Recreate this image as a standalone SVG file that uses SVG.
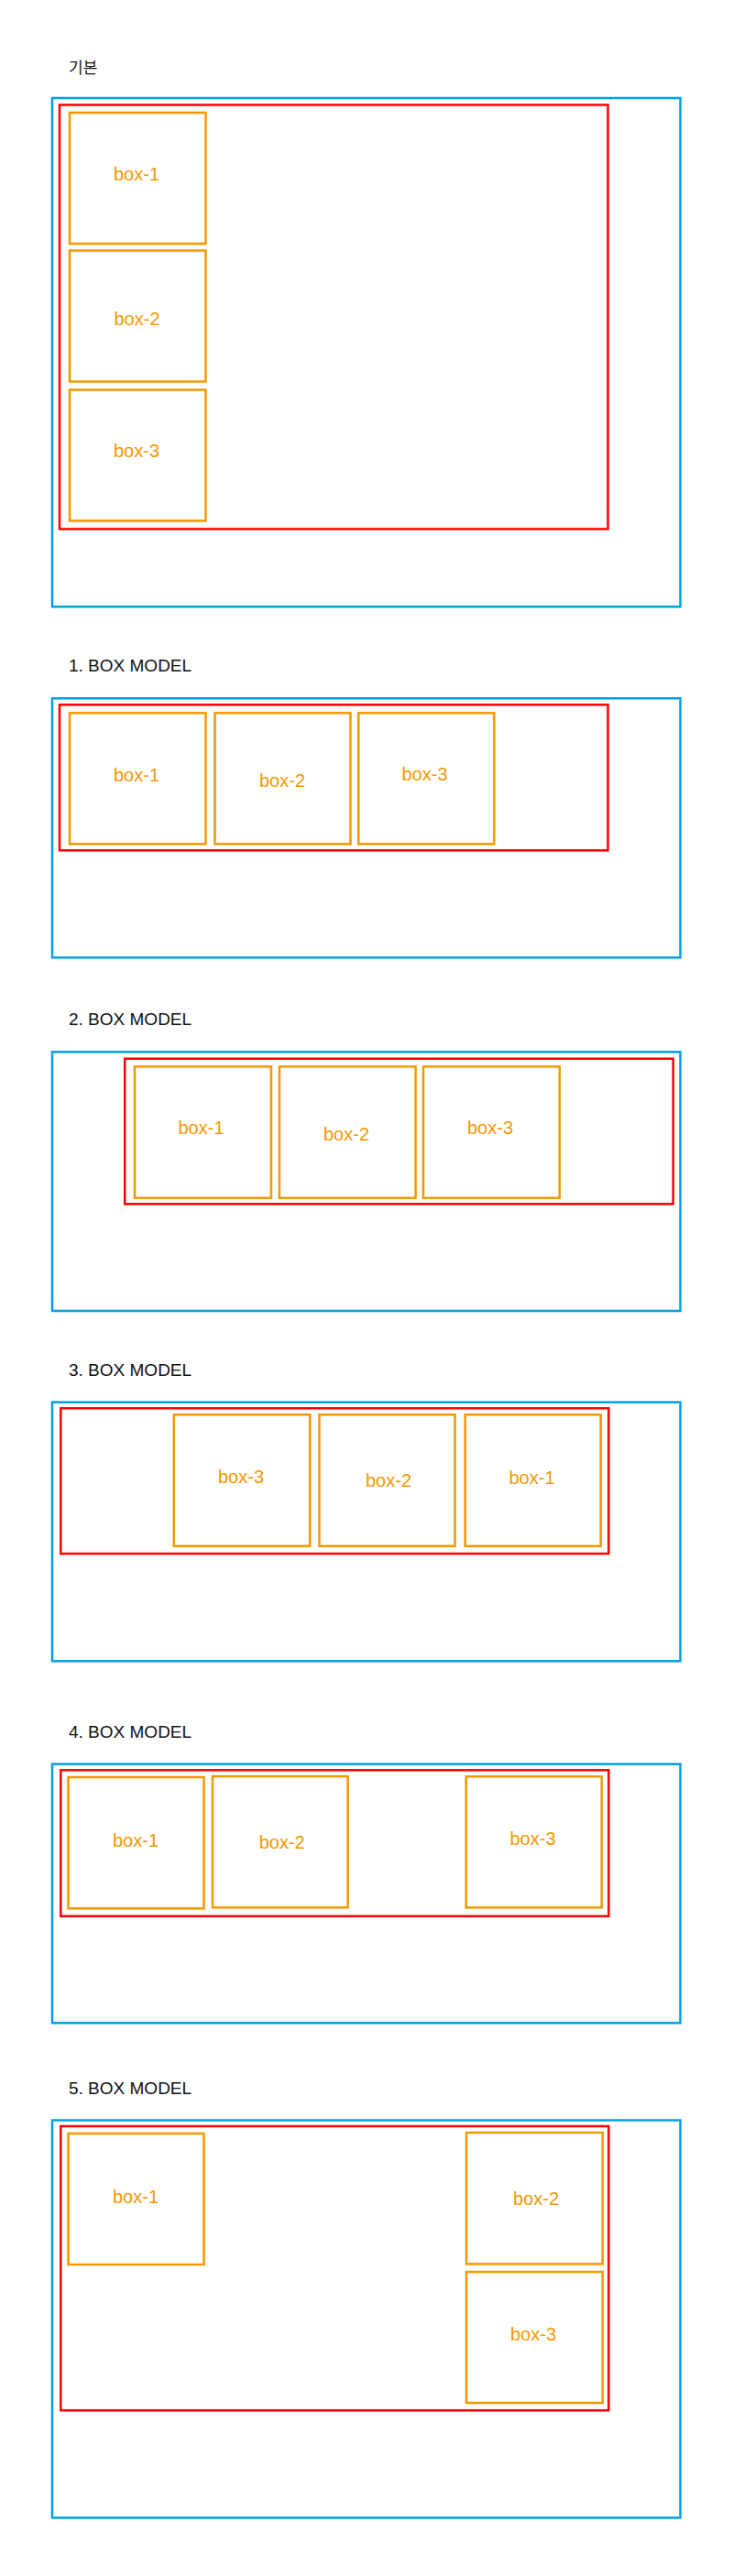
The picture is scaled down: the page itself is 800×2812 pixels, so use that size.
<svg xmlns="http://www.w3.org/2000/svg" width="800" height="2812" viewBox="0 0 800 2812">
<style>
.bg{fill:#ffffff}
.outer{fill:none;stroke:#00a0e6;stroke-width:2.5}
.wrap{fill:none;stroke:#ff0000;stroke-width:2.5}
.box{fill:none;stroke:#f39800;stroke-width:2.5}
.title{font-family:"Liberation Sans","Noto Sans CJK KR",sans-serif;font-size:19px;fill:#111111}
.lbl{font-family:"Liberation Sans",sans-serif;font-size:20px;fill:#f39800;text-anchor:middle}
</style>
<rect class="bg" x="0" y="0" width="800" height="2812"/>

<!-- Section 0: 기본 -->
<g id="sec0">
  <text class="title" x="75" y="80" style="font-size:17px">기본</text>
  <rect id="sec0-outer" class="outer" x="57" y="107" width="685.5" height="555.3"/>
  <rect id="sec0-wrap" class="wrap" x="65" y="114.5" width="598.5" height="463"/>
  <g id="sec0-box1"><rect class="box" x="76" y="123" width="148.5" height="143"/><text class="lbl" x="149" y="197">box-1</text></g>
  <g id="sec0-box2"><rect class="box" x="76" y="273.5" width="148.5" height="143"/><text class="lbl" x="149.5" y="355">box-2</text></g>
  <g id="sec0-box3"><rect class="box" x="76" y="425.5" width="148.5" height="143"/><text class="lbl" x="149" y="499">box-3</text></g>
</g>

<!-- Section 1 -->
<g id="sec1">
  <text class="title" x="75" y="733">1. BOX MODEL</text>
  <rect id="sec1-outer" class="outer" x="57" y="762.3" width="685.5" height="283"/>
  <rect id="sec1-wrap" class="wrap" x="65" y="769.3" width="598.5" height="159"/>
  <g id="sec1-box1"><rect class="box" x="76" y="778.3" width="148.5" height="143"/><text class="lbl" x="149" y="853">box-1</text></g>
  <g id="sec1-box2"><rect class="box" x="234.5" y="778.3" width="148" height="143"/><text class="lbl" x="308" y="859">box-2</text></g>
  <g id="sec1-box3"><rect class="box" x="391.3" y="778.3" width="148" height="143"/><text class="lbl" x="463.5" y="852">box-3</text></g>
</g>

<!-- Section 2 -->
<g id="sec2">
  <text class="title" x="75" y="1119">2. BOX MODEL</text>
  <rect id="sec2-outer" class="outer" x="57" y="1148.3" width="685.5" height="282.7"/>
  <rect id="sec2-wrap" class="wrap" x="136.2" y="1155.7" width="598.5" height="158.6"/>
  <g id="sec2-box1"><rect class="box" x="147" y="1164.3" width="149" height="143.4"/><text class="lbl" x="219.5" y="1238">box-1</text></g>
  <g id="sec2-box2"><rect class="box" x="305" y="1164.3" width="148.6" height="143.4"/><text class="lbl" x="378" y="1245">box-2</text></g>
  <g id="sec2-box3"><rect class="box" x="462" y="1164.3" width="148.7" height="143.4"/><text class="lbl" x="535" y="1238">box-3</text></g>
</g>

<!-- Section 3 -->
<g id="sec3">
  <text class="title" x="75" y="1502">3. BOX MODEL</text>
  <rect id="sec3-outer" class="outer" x="57" y="1530.7" width="685.5" height="282.6"/>
  <rect id="sec3-wrap" class="wrap" x="66.3" y="1537.3" width="598" height="158.7"/>
  <g id="sec3-box3"><rect class="box" x="189.8" y="1544.3" width="148.5" height="143.4"/><text class="lbl" x="263" y="1619">box-3</text></g>
  <g id="sec3-box2"><rect class="box" x="348.5" y="1544.3" width="148" height="143.4"/><text class="lbl" x="424" y="1623">box-2</text></g>
  <g id="sec3-box1"><rect class="box" x="507.7" y="1544.3" width="148" height="143.4"/><text class="lbl" x="580.5" y="1620">box-1</text></g>
</g>

<!-- Section 4 -->
<g id="sec4">
  <text class="title" x="75" y="1897">4. BOX MODEL</text>
  <rect id="sec4-outer" class="outer" x="57" y="1925.7" width="685.5" height="282.6"/>
  <rect id="sec4-wrap" class="wrap" x="66.3" y="1932.3" width="598" height="159.4"/>
  <g id="sec4-box1"><rect class="box" x="74.5" y="1940" width="148" height="143.3"/><text class="lbl" x="148" y="2016">box-1</text></g>
  <g id="sec4-box2"><rect class="box" x="232" y="1939" width="147.6" height="143.3"/><text class="lbl" x="307.7" y="2018">box-2</text></g>
  <g id="sec4-box3"><rect class="box" x="508.7" y="1939.3" width="148" height="143"/><text class="lbl" x="581.5" y="2014">box-3</text></g>
</g>

<!-- Section 5 -->
<g id="sec5">
  <text class="title" x="75" y="2285.5">5. BOX MODEL</text>
  <rect id="sec5-outer" class="outer" x="57" y="2314.5" width="685.5" height="433.9"/>
  <rect id="sec5-wrap" class="wrap" x="66.3" y="2321" width="598" height="310.2"/>
  <g id="sec5-box1"><rect class="box" x="74.5" y="2329" width="148" height="143"/><text class="lbl" x="148" y="2405">box-1</text></g>
  <g id="sec5-box2"><rect class="box" x="509" y="2328" width="148.7" height="143.4"/><text class="lbl" x="585" y="2407">box-2</text></g>
  <g id="sec5-box3"><rect class="box" x="509" y="2480" width="148.7" height="143"/><text class="lbl" x="582" y="2555">box-3</text></g>
</g>

<g id="connectors"/>
</svg>
